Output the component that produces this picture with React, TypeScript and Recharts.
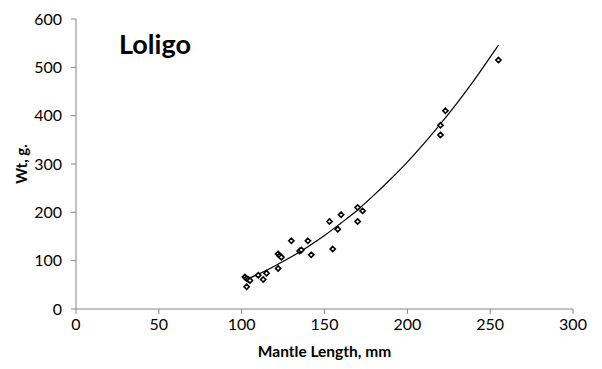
import React from 'react';
import { ComposedChart, Scatter, Line, XAxis, YAxis, Label } from 'recharts';

const mantleLength = [103, 102, 103, 104, 105, 110, 113, 115, 122, 123, 124, 122, 130, 135, 136, 140, 142, 155, 153, 158, 160, 170, 173, 170, 220, 220, 223, 255];
const weight = [46, 66, 63, 61, 59, 70, 61, 74, 114, 110, 107, 84, 141, 120, 122, 141, 112, 124, 181, 165, 195, 210, 203, 181, 380, 360, 410, 515];

const trendLength = [102, 110, 120, 130, 140, 150, 160, 170, 180, 190, 200, 210, 220, 230, 240, 250, 255];
const trendWeight = [60, 72, 89, 108, 129, 152, 178, 205, 236, 269, 304, 342, 383, 426, 472, 521, 546];

const xTicks = [0, 50, 100, 150, 200, 250, 300];
const yTicks = [0, 100, 200, 300, 400, 500, 600];

const points = mantleLength.map((x, i) => ({ x, y: weight[i] }));
const trend = trendLength.map((x, i) => ({ x, y: trendWeight[i] }));

const FONT = 'Lato, "Open Sans", sans-serif';
const AXIS = '#868686';

const Diamond = (props: any) => {
  const { cx, cy } = props;
  if (cx == null || cy == null) return null;
  const r = 2.6;
  return (
    <path
      d={`M${cx},${cy - r}L${cx + r},${cy}L${cx},${cy + r}L${cx - r},${cy}Z`}
      fill="#ffffff"
      stroke="#000000"
      strokeWidth={1.6}
    />
  );
};

const YTitle = (props: any) => {
  const vb = props.viewBox || {};
  const cx = 21;
  const cy = vb.y + vb.height / 2;
  return (
    <text
      x={cx}
      y={cy}
      transform={`rotate(-90, ${cx}, ${cy})`}
      textAnchor="middle"
      dominantBaseline="central"
      fontFamily={FONT}
      fontWeight="bold"
      fontSize={15}
      fill="#000"
    >
      Wt, g.
    </text>
  );
};

export default function App() {
  return (
    <div style={{ position: 'absolute', left: 0, top: 0, width: 602, height: 369, background: '#fff' }}>
      <ComposedChart
        width={602}
        height={369}
        margin={{ top: 19, right: 29, bottom: 0, left: 0 }}
        style={{ fontFamily: FONT }}
      >
        <XAxis
          dataKey="x"
          type="number"
          domain={[0, 300]}
          ticks={xTicks}
          interval={0}
          height={60}
          axisLine={{ stroke: AXIS }}
          tickLine={{ stroke: AXIS }}
          tickSize={5}
          tickMargin={5}
          tick={{ fill: '#000', fontSize: 16, fontFamily: FONT }}
          allowDataOverflow
        >
          <Label
            value="Mantle Length, mm"
            position="insideBottom"
            offset={12}
            style={{ fontFamily: FONT, fontWeight: 'bold', fontSize: 15.5, fill: '#000' }}
          />
        </XAxis>
        <YAxis
          dataKey="y"
          type="number"
          domain={[0, 600]}
          ticks={yTicks}
          interval={0}
          width={76}
          axisLine={{ stroke: AXIS }}
          tickLine={{ stroke: AXIS }}
          tickSize={5}
          tickMargin={9}
          tick={{ fill: '#000', fontSize: 16, fontFamily: FONT }}
          allowDataOverflow
        >
          <Label content={<YTitle />} />
        </YAxis>
        <Line
          data={trend}
          dataKey="y"
          type="monotone"
          stroke="#000"
          strokeWidth={1.2}
          dot={false}
          activeDot={false}
          isAnimationActive={false}
        />
        <Scatter data={points} dataKey="y" shape={<Diamond />} isAnimationActive={false} />
      </ComposedChart>
      <div
        style={{
          position: 'absolute',
          left: 119,
          top: 28,
          fontFamily: FONT,
          fontWeight: 'bold',
          fontSize: 27,
          color: '#000',
          lineHeight: '32px',
        }}
      >
        Loligo
      </div>
    </div>
  );
}
